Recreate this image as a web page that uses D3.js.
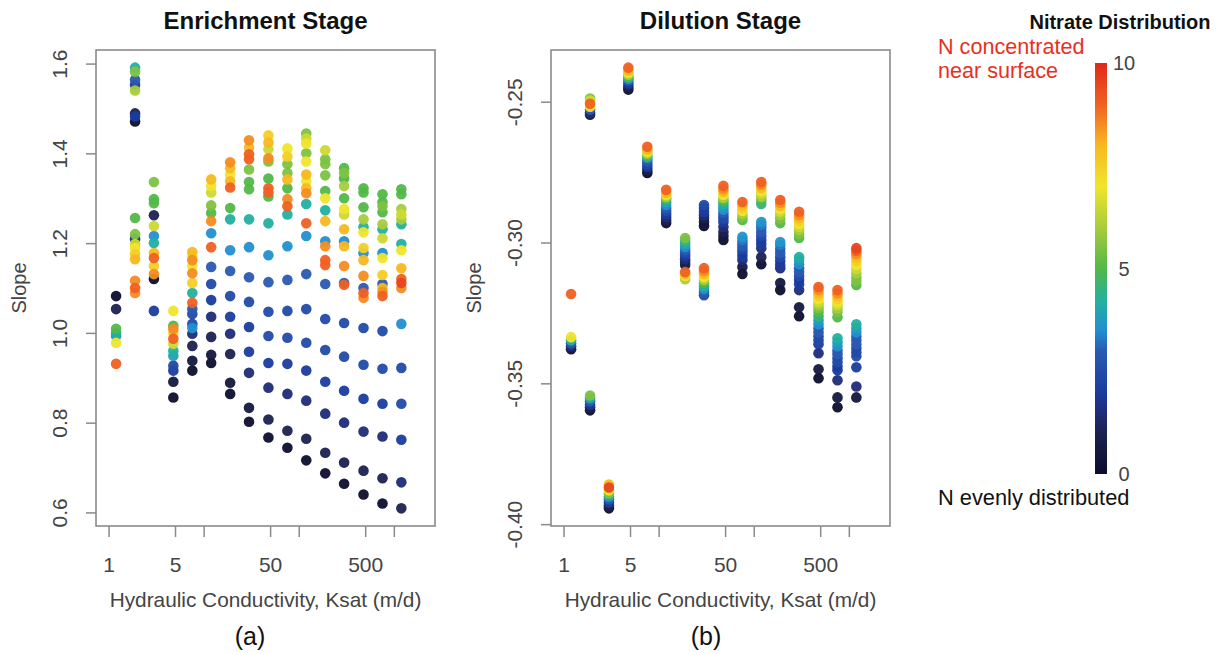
<!DOCTYPE html>
<html><head><meta charset="utf-8">
<script src="https://cdn.jsdelivr.net/npm/d3@7"></script>
<style>
body{margin:0;background:#fff}
svg{display:block}
text{font-family:"Liberation Sans",Arial,Helvetica,sans-serif}
</style>
</head><body>
<svg id="chart" width="1222" height="654"></svg>
<script>
// ---------------- data ----------------
const ksat = [1.2, 1.9, 3.0, 4.8, 7.6, 12, 19, 30, 48, 76, 120, 190, 300, 480, 760, 1200];
const xLimits = [1, 2000];
const xTickValues = [1, 5, 10, 50, 100, 500, 1000];
const xTickLabels = ["1", "5", "", "50", "", "500", ""];

const enrichTicks = [0.6, 0.8, 1.0, 1.2, 1.4, 1.6];
const enrichTickLabels = ["0.6", "0.8", "1.0", "1.2", "1.4", "1.6"];
const dilutionTicks = [-0.40, -0.35, -0.30, -0.25];
const dilutionTickLabels = ["-0.40", "-0.35", "-0.30", "-0.25"];

// Enrichment stage slope, one list per Ksat column
const enrichSlope = [
  [1.082, 1.053, 1.009, 1.0, 0.993, 0.978, 0.931],
  [1.591, 1.582, 1.564, 1.553, 1.540, 1.489, 1.482, 1.471, 1.256, 1.220, 1.209, 1.198, 1.189, 1.176, 1.164, 1.116, 1.100, 1.089],
  [1.336, 1.298, 1.289, 1.262, 1.238, 1.216, 1.2, 1.178, 1.167, 1.149, 1.131, 1.120, 1.049],
  [1.049, 1.016, 1.009, 1.0, 0.987, 0.976, 0.96, 0.949, 0.927, 0.916, 0.891, 0.856],
  [1.18, 1.171, 1.162, 1.149, 1.133, 1.111, 1.089, 1.067, 1.053, 1.042, 1.02, 1.011, 0.998, 0.971, 0.938, 0.916],
  [1.342, 1.327, 1.313, 1.284, 1.267, 1.249, 1.222, 1.191, 1.147, 1.109, 1.073, 1.036, 0.991, 0.951, 0.933],
  [1.38, 1.367, 1.353, 1.338, 1.324, 1.278, 1.253, 1.184, 1.138, 1.082, 1.036, 0.998, 0.953, 0.889, 0.864],
  [1.429, 1.413, 1.398, 1.387, 1.364, 1.336, 1.32, 1.253, 1.191, 1.124, 1.069, 1.013, 0.958, 0.911, 0.833, 0.802],
  [1.44, 1.424, 1.409, 1.389, 1.382, 1.344, 1.322, 1.313, 1.304, 1.244, 1.173, 1.113, 1.047, 0.993, 0.933, 0.878, 0.807, 0.767],
  [1.411, 1.393, 1.376, 1.356, 1.342, 1.322, 1.298, 1.282, 1.264, 1.193, 1.118, 1.049, 0.989, 0.931, 0.864, 0.782, 0.744],
  [1.444, 1.433, 1.422, 1.4, 1.382, 1.353, 1.338, 1.322, 1.311, 1.287, 1.244, 1.216, 1.131, 1.053, 0.978, 0.916, 0.849, 0.764, 0.716],
  [1.407, 1.387, 1.376, 1.351, 1.316, 1.3, 1.273, 1.249, 1.204, 1.193, 1.162, 1.151, 1.109, 1.031, 0.962, 0.891, 0.82, 0.733, 0.687],
  [1.367, 1.356, 1.344, 1.327, 1.3, 1.276, 1.264, 1.231, 1.204, 1.193, 1.149, 1.111, 1.107, 1.022, 0.947, 0.871, 0.8, 0.711, 0.664],
  [1.322, 1.313, 1.28, 1.253, 1.236, 1.224, 1.189, 1.178, 1.162, 1.127, 1.1, 1.089, 1.078, 1.011, 0.929, 0.853, 0.78, 0.693, 0.64],
  [1.309, 1.291, 1.282, 1.269, 1.242, 1.231, 1.211, 1.178, 1.167, 1.129, 1.109, 1.1, 1.091, 1.082, 1.004, 0.92, 0.842, 0.769, 0.676, 0.62],
  [1.32, 1.309, 1.276, 1.264, 1.253, 1.242, 1.198, 1.184, 1.144, 1.12, 1.111, 1.1, 1.02, 0.922, 0.842, 0.762, 0.667, 0.609]
];
// Nitrate distribution index (0 = even, 10 = near surface) for each enrichment point
const enrichLevel = [
  [0, 1, 5, 4.2, 3.5, 7, 9],
  [4.2, 5.5, 3, 2, 6, 1, 2, 0, 5, 5.5, 1.5, 6.5, 7, 7.5, 8, 8.5, 9, 8.5],
  [5.5, 5, 5, 1, 6.5, 3.5, 4.2, 8, 9, 7.5, 8.5, 0, 2],
  [7, 5, 8.5, 7.5, 9, 6.5, 4.2, 3.8, 2.5, 2, 0.5, 0],
  [8, 7, 8.5, 7, 8.5, 7.5, 4.2, 9, 3, 2.5, 2.5, 3.5, 1.5, 1, 0.5, 0],
  [8, 7, 6.5, 5.5, 5, 8.5, 3.5, 9, 3, 2.5, 2, 1.5, 1, 0.5, 0],
  [8.5, 8, 7, 8, 9, 5, 4.2, 3.5, 3, 2.5, 2, 1.5, 1, 0.5, 0],
  [8.5, 8, 9, 9, 5.5, 5, 5, 4.2, 3.5, 3, 2.5, 2, 2, 1.5, 0.5, 0],
  [7.5, 8, 6.5, 8.5, 5.5, 5, 9, 9, 5, 4.2, 3.5, 3, 2.5, 2.5, 2, 1.5, 1, 0],
  [7, 7.5, 5.5, 5.5, 8, 5, 8.5, 9, 4.2, 3.5, 3, 2.5, 2.5, 2, 1.5, 1, 0],
  [5.5, 6.5, 7, 5.5, 7, 8, 7, 8, 8.5, 4.2, 9, 3.5, 3, 2.5, 2.5, 2, 1.5, 1, 0],
  [6.5, 5.5, 5.5, 5.5, 5, 7, 4.2, 8, 3.5, 8.5, 9, 9, 3, 2.5, 2.5, 2, 1.5, 1, 0],
  [5, 5.5, 5, 6, 5, 7, 6.5, 8, 3.5, 8, 8.5, 3, 9, 2.5, 2.5, 2, 1.5, 1, 0],
  [5, 5, 5, 6, 4.2, 7, 7.5, 3.5, 8, 8.5, 3, 9, 8.5, 2.5, 2.5, 2, 1.5, 1, 0],
  [5, 5, 5.5, 5, 6, 4.2, 6.5, 3.5, 7, 7.5, 3, 8, 8.5, 9, 2.5, 2.5, 2, 1.5, 1, 0],
  [5, 5, 6, 6.5, 6, 4.2, 4.2, 7, 8, 9, 9.5, 8.5, 3.5, 2.5, 2.5, 2, 1.5, 1]
];

// Dilution stage slope, one list per Ksat column
const dilutionSlope = [
  [-0.3183, -0.3336, -0.3347, -0.3358, -0.3368, -0.3379],
  [-0.2489, -0.2496, -0.2507, -0.2518, -0.2528, -0.2539, -0.2546, -0.3543, -0.3553, -0.3564, -0.3575, -0.3585, -0.3596],
  [-0.3859, -0.387, -0.388, -0.3891, -0.3902, -0.3912, -0.3923, -0.3934, -0.3944],
  [-0.2379, -0.239, -0.2397, -0.2404, -0.2411, -0.2418, -0.2425, -0.2436, -0.2447, -0.2457],
  [-0.266, -0.2671, -0.2678, -0.2685, -0.2692, -0.2699, -0.271, -0.2721, -0.2731, -0.2742, -0.2753],
  [-0.2813, -0.2824, -0.2831, -0.2838, -0.2845, -0.2856, -0.2867, -0.2877, -0.2888, -0.2899, -0.2909, -0.292, -0.2931],
  [-0.2984, -0.2995, -0.3005, -0.3016, -0.3027, -0.3037, -0.3048, -0.3059, -0.3069, -0.308, -0.3105, -0.3112, -0.3119, -0.313],
  [-0.2867, -0.2877, -0.2891, -0.2902, -0.2913, -0.2927, -0.2941, -0.3091, -0.3101, -0.3112, -0.3123, -0.3133, -0.3144, -0.3155, -0.3165, -0.3176, -0.3187],
  [-0.2799, -0.281, -0.282, -0.2831, -0.2842, -0.2852, -0.2863, -0.2874, -0.2884, -0.2895, -0.2906, -0.2916, -0.2927, -0.2945, -0.2963, -0.2977, -0.2991],
  [-0.2856, -0.2867, -0.2877, -0.2888, -0.2899, -0.2909, -0.292, -0.298, -0.2991, -0.3002, -0.3012, -0.3023, -0.3034, -0.3048, -0.3062, -0.3087, -0.3112],
  [-0.2785, -0.2795, -0.2806, -0.2817, -0.2827, -0.2838, -0.2849, -0.2863, -0.2927, -0.2938, -0.2948, -0.2963, -0.2977, -0.2991, -0.3005, -0.302, -0.3052, -0.3077],
  [-0.2849, -0.2859, -0.287, -0.2881, -0.2891, -0.2902, -0.2916, -0.2931, -0.2998, -0.3009, -0.3023, -0.3037, -0.3052, -0.3066, -0.308, -0.3091, -0.3144, -0.3169],
  [-0.2891, -0.2902, -0.2913, -0.2923, -0.2934, -0.2945, -0.2956, -0.297, -0.2984, -0.3052, -0.3062, -0.3077, -0.3091, -0.3105, -0.3119, -0.3133, -0.3148, -0.3169, -0.323, -0.3262],
  [-0.3158, -0.3169, -0.318, -0.319, -0.3201, -0.3212, -0.3222, -0.3233, -0.3247, -0.3262, -0.3276, -0.329, -0.3304, -0.3319, -0.3333, -0.3347, -0.3361, -0.3393, -0.345, -0.3482],
  [-0.3169, -0.318, -0.319, -0.3201, -0.3212, -0.3222, -0.3233, -0.3247, -0.3265, -0.334, -0.3354, -0.3368, -0.3383, -0.3397, -0.3411, -0.3425, -0.344, -0.3454, -0.3489, -0.355, -0.3585],
  [-0.302, -0.303, -0.3041, -0.3052, -0.3066, -0.308, -0.3094, -0.3109, -0.3123, -0.3137, -0.3151, -0.329, -0.3304, -0.3319, -0.3333, -0.3347, -0.3361, -0.3375, -0.339, -0.3404, -0.3443, -0.3511, -0.355]
];
const dilutionLevel = [
  [9, 7, 4.2, 3, 1.5, 0],
  [5.5, 6.5, 9, 7, 3, 1.5, 0.5, 5.5, 4, 3, 2, 1, 0],
  [8, 9.5, 7, 5.5, 4, 3, 2, 1, 0],
  [9, 8, 7, 6, 5, 4, 3, 2, 1, 0],
  [9, 8, 7, 6, 5, 4, 3, 2.5, 2, 1, 0],
  [9, 8, 7, 6, 5, 4, 3.5, 3, 2.5, 2, 1.5, 1, 0],
  [5.5, 4.5, 4, 3.5, 3, 2.5, 2, 1.5, 1, 0.5, 9, 8, 7, 6],
  [2.5, 2, 2, 1.5, 1, 0.5, 0, 9, 8.5, 8, 7, 6, 5, 4.2, 3.5, 3, 2.5],
  [9, 8.5, 8, 7, 6, 5, 4.2, 3.8, 3.5, 3, 2.5, 2.5, 2, 1.5, 1, 0.5, 0],
  [9, 8, 7.5, 7, 6, 5.5, 5, 3.6, 3.3, 3, 3, 2.5, 2, 2, 1.5, 0.5, 0],
  [9, 8.5, 8, 7, 6.5, 6, 5, 4.5, 3.6, 3.3, 3, 3, 2.5, 2, 2, 1.5, 1, 0],
  [9, 8.5, 8, 7, 6.5, 6, 5.5, 5, 3.6, 3.3, 3, 3, 2.5, 2, 2, 1.5, 0.5, 0],
  [9, 8.5, 8, 7.5, 7, 6.5, 6, 5.5, 5, 4.2, 3.8, 3.5, 3, 3, 2.5, 2, 2, 1.5, 0.5, 0],
  [9, 8.5, 8, 7.5, 7, 6.5, 6, 5.5, 5, 4.5, 3.8, 3.5, 3, 3, 2.5, 2.5, 2, 1.5, 0.5, 0],
  [9, 8.5, 8, 7.5, 7, 6.5, 6, 5.5, 5, 4.2, 3.8, 3.5, 3, 3, 2.5, 2.5, 2, 2, 1.5, 0.5, 0],
  [9.5, 9, 8.5, 8, 7.5, 7, 6.5, 6, 5.5, 5.5, 5, 4.2, 3.8, 3.5, 3, 3, 3, 2.5, 2.5, 2.5, 2, 1.5, 0.5]
];

// colour ramp of the nitrate-distribution index
const colorStopLevels = [0, 1, 1.5, 2, 3, 3.5, 4.2, 5, 6, 7, 8, 9, 10];
const colorStopHex = ["#0c0e2c", "#1b2150", "#1f2c78", "#1a3c9e", "#2a5ab2", "#2290d0", "#22b0a0",
                      "#52b848", "#a8cc3c", "#f0e52a", "#f8b820", "#f06022", "#e0281a"];
const colorbarTicks = [0, 5, 10];

// ---------------- drawing ----------------
const svg = d3.select("#chart");
const FONT = '"Liberation Sans", Arial, Helvetica, sans-serif';
const color = d3.scaleLinear().domain(colorStopLevels).range(colorStopHex).interpolate(d3.interpolateRgb).clamp(true);

function pad4(lo, hi) { const r = hi - lo; return [lo - 0.04 * r, hi + 0.04 * r]; }

function drawPanel(cfg) {
  const {x0, x1, y0, y1, slope, level, yTicks, yTickLabels, title, tag} = cfg;
  const lx = pad4(Math.log10(xLimits[0]), Math.log10(xLimits[1]));
  const x = d3.scaleLog().domain([10 ** lx[0], 10 ** lx[1]]).range([x0, x1]);
  const flat = slope.flat();
  const y = d3.scaleLinear().domain(pad4(d3.min(flat), d3.max(flat))).range([y1, y0]);

  const g = svg.append("g");
  // axes
  const xa = g.append("g").attr("transform", `translate(0,${y1})`)
    .call(d3.axisBottom(x).tickValues(xTickValues).tickSize(11).tickSizeOuter(0)
      .tickFormat((d, i) => xTickLabels[i]));
  xa.select(".domain").remove();
  xa.selectAll("line").attr("stroke", "#8a8a8a").attr("stroke-width", 1.5);
  xa.selectAll("text").attr("y", 46).attr("dy", 0).attr("fill", "#444")
    .style("font-size", "21px").style("font-family", FONT);

  const ya = g.append("g").attr("transform", `translate(${x0},0)`)
    .call(d3.axisLeft(y).tickValues(yTicks).tickSize(10).tickSizeOuter(0)
      .tickFormat((d, i) => yTickLabels[i]));
  ya.select(".domain").remove();
  ya.selectAll("line").attr("stroke", "#8a8a8a").attr("stroke-width", 1.5);
  ya.selectAll("text").attr("x", null).attr("dy", 0).attr("text-anchor", "middle")
    .attr("transform", "translate(-29,0) rotate(-90)").attr("fill", "#444")
    .style("font-size", "21px").style("font-family", FONT);

  // box
  g.append("rect").attr("x", x0).attr("y", y0).attr("width", x1 - x0).attr("height", y1 - y0)
    .attr("fill", "none").attr("stroke", "#8a8a8a").attr("stroke-width", 1.6);

  // points
  const pts = [];
  slope.forEach((col, i) => col.forEach((v, j) => pts.push({k: ksat[i], v, lev: level[i][j]})));
  pts.sort((a, b) => a.lev - b.lev);
  g.append("g").selectAll("circle").data(pts).join("circle")
    .attr("cx", d => x(d.k)).attr("cy", d => y(d.v)).attr("r", 5.3)
    .attr("fill", d => color(d.lev)).attr("fill-opacity", 0.95);

  // labels
  const cx = (x0 + x1) / 2;
  g.append("text").attr("x", cx).attr("y", 29).attr("text-anchor", "middle")
    .style("font-size", "24px").style("font-weight", "bold").attr("fill", "#111").text(title);
  g.append("text").attr("x", cx).attr("y", 607).attr("text-anchor", "middle")
    .style("font-size", "20.8px").attr("fill", "#444").text("Hydraulic Conductivity, Ksat (m/d)");
  g.append("text").attr("transform", `translate(${x0 - 70},${(y0 + y1) / 2}) rotate(-90)`)
    .attr("text-anchor", "middle").style("font-size", "20px").attr("fill", "#444").text("Slope");
  g.append("text").attr("x", cfg.tagX).attr("y", 645).attr("text-anchor", "middle")
    .style("font-size", "25px").attr("fill", "#111").text(tag);
}

drawPanel({x0: 96, x1: 435, y0: 50, y1: 526, slope: enrichSlope, level: enrichLevel,
  yTicks: enrichTicks, yTickLabels: enrichTickLabels, title: "Enrichment Stage", tag: "(a)", tagX: 250});
drawPanel({x0: 551, x1: 890, y0: 50, y1: 526, slope: dilutionSlope, level: dilutionLevel,
  yTicks: dilutionTicks, yTickLabels: dilutionTickLabels, title: "Dilution Stage", tag: "(b)", tagX: 706});

// colour bar
const cb = svg.append("g");
const cbY = d3.scaleLinear().domain([0, 10]).range([474, 63]);
const defs = svg.append("defs");
const grad = defs.append("linearGradient").attr("id", "cbgrad")
  .attr("x1", 0).attr("y1", 1).attr("x2", 0).attr("y2", 0);
d3.range(0, 10.01, 0.25).forEach(l => grad.append("stop").attr("offset", l / 10).attr("stop-color", color(l)));
cb.append("rect").attr("x", 1095).attr("y", cbY(10)).attr("width", 12).attr("height", cbY(0) - cbY(10))
  .attr("fill", "url(#cbgrad)");
cb.selectAll("text.tk").data(colorbarTicks).join("text").attr("class", "tk")
  .attr("x", 1124).attr("y", d => cbY(d) + 7).attr("text-anchor", "middle")
  .style("font-size", "20px").attr("fill", "#444").text(d => d);
cb.append("text").attr("x", 1120).attr("y", 29).attr("text-anchor", "middle")
  .style("font-size", "20px").style("font-weight", "bold").attr("fill", "#111").text("Nitrate Distribution");
cb.append("text").attr("x", 938).attr("y", 54).style("font-size", "21.6px").attr("fill", "#e8301e").text("N concentrated");
cb.append("text").attr("x", 938).attr("y", 78).style("font-size", "21.6px").attr("fill", "#e8301e").text("near surface");
cb.append("text").attr("x", 938).attr("y", 505).style("font-size", "21.8px").attr("fill", "#111").text("N evenly distributed");
</script>
</body></html>
